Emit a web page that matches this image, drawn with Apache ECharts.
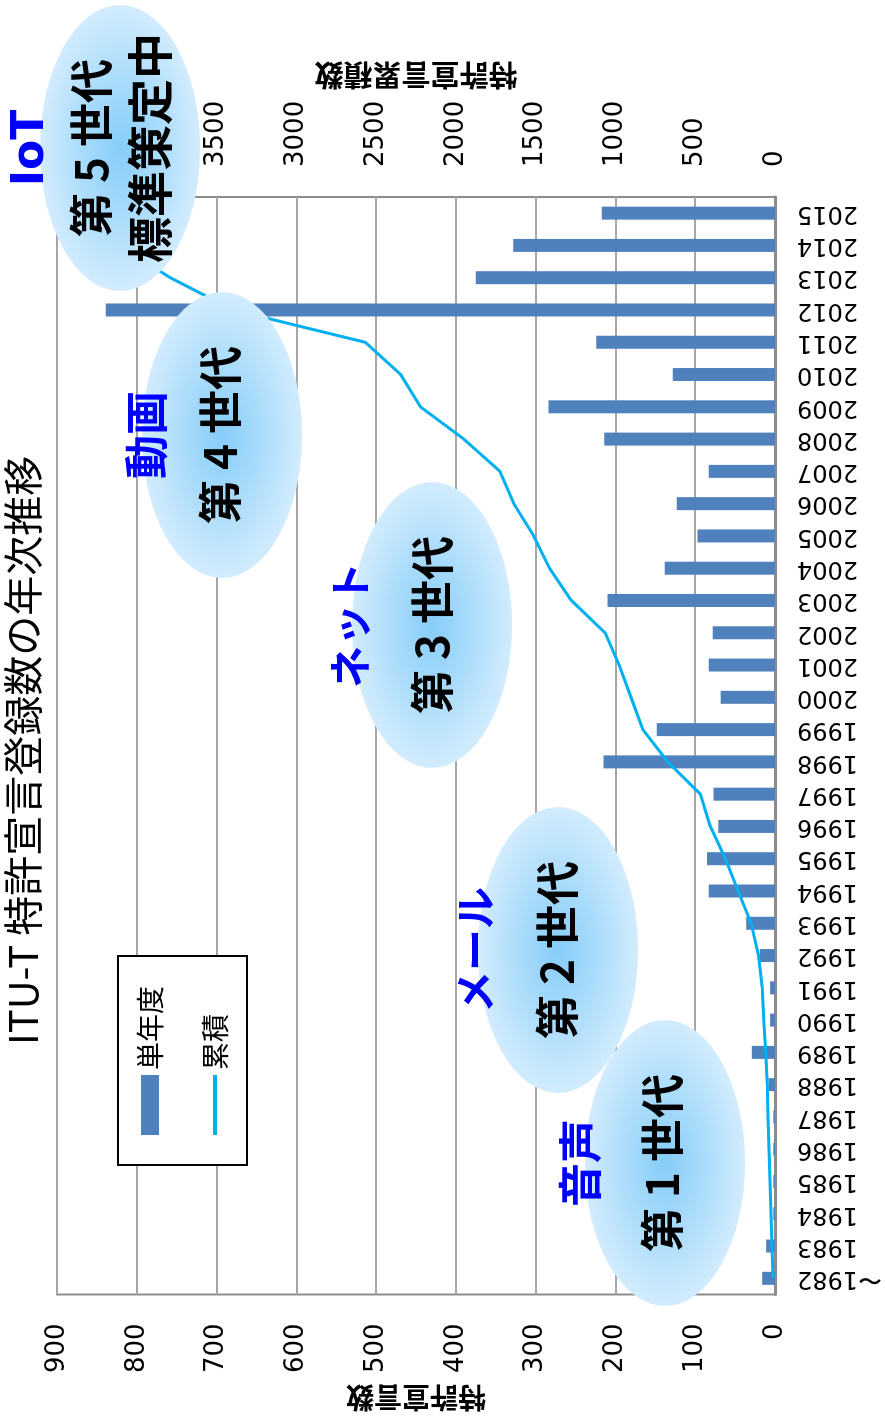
<!DOCTYPE html>
<html>
<head>
<meta charset="utf-8">
<script src="https://cdn.jsdelivr.net/npm/echarts@6/dist/echarts.min.js"></script>
<style>
  html, body { margin: 0; padding: 0; width: 885px; height: 1420px; overflow: hidden; background: #fff; }
  /* chart is laid out landscape, then turned a quarter left like the source image */
  #chart { position: absolute; left: 0; top: 0; width: 1420px; height: 885px;
           transform-origin: 0 0; transform: translate(0, 1420px) rotate(-90deg); }
</style>
</head>
<body>
<div id="chart"></div>
<script>
var titleText = 'ITU-T 特許宣言登録数の年次推移';

var years = ['〜1982', '1983', '1984', '1985', '1986', '1987', '1988', '1989', '1990', '1991',
  '1992', '1993', '1994', '1995', '1996', '1997', '1998', '1999', '2000', '2001',
  '2002', '2003', '2004', '2005', '2006', '2007', '2008', '2009', '2010', '2011',
  '2012', '2013', '2014', '2015'];

// 単年度
var perYear = [16, 11, 2, 2, 2, 2, 8, 29, 6, 6,
  19, 36, 83, 85, 71, 77, 215, 148, 68, 83,
  78, 210, 138, 97, 123, 83, 214, 284, 128, 224,
  839, 375, 328, 217];

// 累積
var cumulative = [12, 19, 25, 31, 37, 43, 48, 58, 70, 80,
  103, 149, 230, 311, 405, 467, 672, 828, 902, 977,
  1065, 1276, 1413, 1512, 1637, 1724, 1950, 2222, 2346, 2568,
  3395, 3790, 4110, 4330];

var leftMax = 900, leftStep = 100;
var rightMax = 4500, rightStep = 500;

var eraTags = ['音声', 'メール', 'ネット', '動画', 'IoT'];
var eraNames = ['第 1 世代', '第 2 世代', '第 3 世代', '第 4 世代', '第 5 世代'];
var eraExtra = '標準策定中';

;(function () {
  var myChart = echarts.init(document.getElementById('chart'));

  var jp = '"Noto Sans CJK JP", sans-serif';
  var num = '"DejaVu Sans", sans-serif';

  // 楕円の吹き出し（線や目盛の上に描く）
  function bubble(cx, cy, texts) {
    var kids = [{
      type: 'circle', z: 100,
      shape: { cx: 0, cy: 0, r: 80 },
      scaleX: 143 / 80,
      style: {
        fill: {
          type: 'radial', x: 0.5, y: 0.5, r: 0.5,
          colorStops: [
            { offset: 0, color: '#86cdf8' },
            { offset: 0.6, color: '#b2dffb' },
            { offset: 1, color: '#d2ecfd' }
          ]
        }
      }
    }];
    texts.forEach(function (t) {
      kids.push({
        type: 'text', x: 0, y: t.dy, z: 101,
        style: {
          text: t.text, fill: t.color, fontSize: t.size, fontWeight: 'bold', fontFamily: t.font || jp,
          align: 'center', verticalAlign: 'middle', textAlign: 'center', textVerticalAlign: 'middle'
        }
      });
    });
    return { type: 'group', x: cx, y: cy, z: 100, children: kids };
  }

  var graphics = [
    bubble(257, 665, [{ text: eraTags[0], dy: -85, color: '#0000ff', size: 44 }, { text: eraNames[0], dy: -3, color: '#000', size: 44 }]),
    bubble(470, 558, [{ text: eraTags[1], dy: -83, color: '#0000ff', size: 42 }, { text: eraNames[1], dy: -1, color: '#000', size: 44 }]),
    bubble(795, 432, [{ text: eraTags[2], dy: -82, color: '#0000ff', size: 42 }, { text: eraNames[2], dy: 0, color: '#000', size: 44 }]),
    bubble(985, 222, [{ text: eraTags[3], dy: -76, color: '#0000ff', size: 44 }, { text: eraNames[3], dy: -2, color: '#000', size: 44 }]),
    bubble(1272, 120, [{ text: eraTags[4], dy: -88, color: '#0000ff', size: 44, font: num }, { text: eraNames[4], dy: -29, color: '#000', size: 44 },
      { text: eraExtra, dy: 30, color: '#000', size: 46 }])
  ];

  var option = {
    animation: false,
    backgroundColor: '#fff',
    textStyle: { fontFamily: num },
    title: {
      text: titleText, left: 370, top: -2,
      textStyle: { fontSize: 40, fontWeight: 'normal', color: '#000', fontFamily: jp }
    },
    legend: {
      orient: 'vertical', left: 255, top: 118,
      padding: [18, 30, 18, 28], itemGap: 37,
      itemWidth: 60, itemHeight: 18,
      borderColor: '#000', borderWidth: 2, backgroundColor: '#fff',
      textStyle: { fontSize: 28, color: '#000', fontFamily: jp },
      data: [
        { name: '単年度', icon: 'rect' },
        { name: '累積', itemStyle: { opacity: 0 }, lineStyle: { color: '#00b0f0', width: 4 } }
      ]
    },
    grid: { left: 124, right: 197, top: 57, bottom: 105, show: true, borderColor: '#8c8c8c', borderWidth: 2 },
    xAxis: {
      type: 'category', data: years,
      axisTick: { show: false },
      axisLine: { lineStyle: { color: '#8c8c8c', width: 3 } },
      axisLabel: { rotate: 90, interval: 0, margin: 22, fontSize: 24, color: '#000' }
    },
    yAxis: [{
      type: 'value', min: 0, max: leftMax, interval: leftStep,
      name: '特許宣言数', nameLocation: 'middle', nameRotate: 90, nameGap: 84,
      nameTextStyle: { fontSize: 28, fontWeight: 'bold', color: '#000', fontFamily: jp },
      axisLine: { show: false }, axisTick: { show: false },
      axisLabel: { fontSize: 26, margin: 29, color: '#000' },
      splitLine: { lineStyle: { color: '#a6a6a6', width: 2 } }
    }, {
      type: 'value', min: 0, max: rightMax, interval: rightStep, position: 'right',
      name: '特許宣言累積数', nameLocation: 'middle', nameRotate: 90, nameGap: 104,
      nameTextStyle: { fontSize: 29, fontWeight: 'bold', color: '#000', fontFamily: jp },
      axisLine: { show: false }, axisTick: { show: false },
      axisLabel: { fontSize: 26, margin: 30, color: '#000', formatter: function (v) { return String(v); } },
      splitLine: { show: false }
    }],
    series: [{
      name: '単年度', type: 'bar', data: perYear, barWidth: 13,
      itemStyle: { color: '#4f81bd' }
    }, {
      name: '累積', type: 'line', yAxisIndex: 1, data: cumulative,
      symbol: 'none', lineStyle: { color: '#00b0f0', width: 3 },
      itemStyle: { color: '#00b0f0' }
    }],
    graphic: graphics
  };

  myChart.setOption(option);
})();
</script>
</body>
</html>
